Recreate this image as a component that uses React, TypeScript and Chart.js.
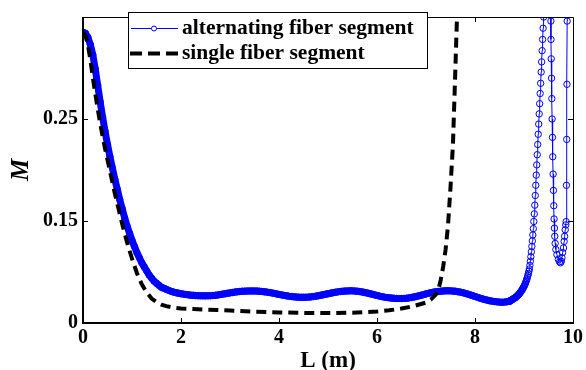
import React, { useEffect, useRef } from "react";
import { Chart, registerables } from "chart.js";

Chart.register(...registerables);

// ---------- data ----------
const SERIES_NAMES = ["alternating fiber segment", "single fiber segment"];
const X_TICKS = [0, 2, 4, 6, 8, 10];
const Y_TICK_VALUES = [0, 0.1, 0.2];
const Y_TICK_LABELS = ["0", "0.15", "0.25"];
const X_TITLE = "L (m)";
const Y_TITLE = "M";

// alternating fiber segment: sampled every 0.05 m from L = 0 to L = 8.70
const altGridStep = 0.05;
const altGridM = [
  0.285, 0.284, 0.280, 0.273, 0.263, 0.249, 0.233, 0.217, 0.202, 0.188,
  0.175, 0.163, 0.152, 0.141, 0.131, 0.121, 0.112, 0.103, 0.095, 0.088,
  0.081, 0.075, 0.069, 0.064, 0.059, 0.055, 0.051, 0.047, 0.044, 0.041,
  0.039, 0.037, 0.035, 0.034, 0.033, 0.032, 0.031, 0.0303, 0.0297, 0.0292,
  0.0287, 0.0283, 0.0279, 0.0276, 0.0273, 0.0271, 0.0269, 0.0268, 0.0267, 0.0266,
  0.0266, 0.0267, 0.0268, 0.0270, 0.0272, 0.0275, 0.0279, 0.0283, 0.0287, 0.0291,
  0.0295, 0.0299, 0.0303, 0.0306, 0.0309, 0.0311, 0.0312, 0.0313, 0.0314, 0.0314,
  0.0314, 0.0313, 0.0311, 0.0309, 0.0306, 0.0303, 0.0299, 0.0295, 0.0290, 0.0285,
  0.0280, 0.0276, 0.0271, 0.0267, 0.0263, 0.0260, 0.0257, 0.0255, 0.0253, 0.0252,
  0.0252, 0.0253, 0.0254, 0.0256, 0.0259, 0.0263, 0.0267, 0.0272, 0.0277, 0.0282,
  0.0287, 0.0292, 0.0297, 0.0301, 0.0305, 0.0308, 0.0311, 0.0313, 0.0314, 0.0315,
  0.0315, 0.0313, 0.0311, 0.0308, 0.0304, 0.0299, 0.0294, 0.0288, 0.0282, 0.0276,
  0.0270, 0.0264, 0.0259, 0.0254, 0.0250, 0.0247, 0.0244, 0.0242, 0.0241, 0.0240,
  0.0240, 0.0241, 0.0243, 0.0246, 0.0250, 0.0255, 0.0260, 0.0266, 0.0272, 0.0278,
  0.0285, 0.0291, 0.0297, 0.0302, 0.0306, 0.0309, 0.0312, 0.0314, 0.0315, 0.0315,
  0.0315, 0.0313, 0.0311, 0.0307, 0.0303, 0.0297, 0.0291, 0.0284, 0.0276, 0.0268,
  0.0260, 0.0252, 0.0244, 0.0237, 0.0230, 0.0224, 0.0218, 0.0214, 0.0210, 0.0207,
  0.0205, 0.0204, 0.0205, 0.0208, 0.0213,
];

// alternating fiber segment: steep oscillating tail (L > 8.70)
const altTailL = [
  8.70, 8.71, 8.72, 8.73, 8.74, 8.75, 8.76, 8.77, 8.78, 8.79, 8.80,
  8.81, 8.82, 8.83, 8.84, 8.85, 8.86, 8.87, 8.88, 8.89, 8.90,
  8.91, 8.92, 8.93, 8.94, 8.95, 8.96, 8.97, 8.98, 8.99, 9.00,
  9.01, 9.02, 9.03, 9.04, 9.05, 9.06, 9.07, 9.08, 9.09, 9.10,
  9.11, 9.12, 9.13, 9.14, 9.15, 9.16, 9.17, 9.18, 9.19, 9.20,
  9.21, 9.22, 9.23, 9.24, 9.25, 9.26, 9.27, 9.28, 9.29, 9.30,
  9.31, 9.32, 9.33, 9.34, 9.35, 9.36, 9.37, 9.38, 9.39, 9.40,
  9.41, 9.42, 9.45, 9.50, 9.54,
  9.549, 9.551, 9.556, 9.562, 9.568, 9.574, 9.581, 9.587, 9.594, 9.601,
  9.608, 9.614, 9.621, 9.628, 9.636, 9.650, 9.672, 9.700, 9.725, 9.745,
  9.762, 9.775, 9.788, 9.806, 9.819, 9.829, 9.841, 9.852, 9.860, 9.866,
  9.872, 9.877, 9.881, 9.884,
];
const altTailM = [
  0.0213, 0.0215, 0.0218, 0.0221, 0.0224, 0.0227, 0.0230, 0.0233, 0.0236, 0.0239, 0.0242,
  0.0245, 0.0248, 0.0252, 0.0256, 0.0260, 0.0264, 0.0268, 0.0273, 0.0278, 0.0284,
  0.0290, 0.0296, 0.0303, 0.0310, 0.0317, 0.0325, 0.0333, 0.0341, 0.0350, 0.0359,
  0.0369, 0.0380, 0.0392, 0.0405, 0.0419, 0.0434, 0.0450, 0.0467, 0.0486, 0.0507,
  0.0530, 0.0565, 0.0605, 0.0650, 0.0698, 0.0750, 0.0805, 0.0863, 0.0925, 0.0995,
  0.1070, 0.1155, 0.1250, 0.1350, 0.1450, 0.1550, 0.1650, 0.1750, 0.1850, 0.1950,
  0.2050, 0.2150, 0.2250, 0.2350, 0.2460, 0.2560, 0.2670, 0.2780, 0.2890, 0.3000,
  0.3110, 0.3230, 0.40, 0.42, 0.33,
  0.296, 0.278, 0.259, 0.240, 0.220, 0.200, 0.182, 0.163, 0.146, 0.130,
  0.115, 0.102, 0.093, 0.085, 0.078, 0.072, 0.067, 0.0625, 0.060, 0.059,
  0.0605, 0.064, 0.069, 0.0736, 0.080, 0.085, 0.0914, 0.0962, 0.0994, 0.135,
  0.180, 0.234, 0.296, 0.36,
];

// single fiber segment
const singleL = [
  0.00, 0.05, 0.10, 0.15, 0.20, 0.25, 0.30, 0.35, 0.40, 0.45,
  0.50, 0.55, 0.60, 0.65, 0.70, 0.75, 0.80, 0.85, 0.90, 0.95,
  1.00, 1.10, 1.20, 1.30, 1.40, 1.50, 1.60, 1.70, 1.80, 1.90,
  2.00, 2.25, 2.50, 2.75, 3.00, 3.50, 4.00, 4.50, 5.00, 5.50,
  6.00, 6.25, 6.50, 6.75, 7.00, 7.10, 7.20, 7.25, 7.30, 7.35,
  7.40, 7.45, 7.50, 7.55, 7.60, 7.62, 7.64, 7.66,
];
const singleM = [
  0.285, 0.282, 0.273, 0.258, 0.241, 0.225, 0.210, 0.196, 0.183, 0.171,
  0.160, 0.149, 0.138, 0.127, 0.117, 0.107, 0.097, 0.088, 0.079, 0.071,
  0.063, 0.049, 0.038, 0.030, 0.024, 0.0205, 0.0180, 0.0165, 0.0155, 0.0148,
  0.0143, 0.0137, 0.0132, 0.0127, 0.0122, 0.0111, 0.0104, 0.0099, 0.0097, 0.0101,
  0.0112, 0.0124, 0.0142, 0.0166, 0.0200, 0.0230, 0.0280, 0.0320, 0.0420, 0.0550,
  0.0720, 0.0960, 0.1330, 0.1750, 0.2500, 0.2810, 0.3100, 0.3400,
];

// ---------- styling ----------
const SERIF = '"Liberation Serif", "Times New Roman", serif';
const BLUE = "#0000ff";

const framePlugin = {
  id: "matlabFrame",
  afterDatasetsDraw(chart: any) {
    const { ctx, chartArea: a, scales } = chart;
    const xs = scales.x;
    const ys = scales.y;
    ctx.save();
    ctx.strokeStyle = "#000";
    ctx.lineWidth = 1;
    ctx.beginPath();
    for (const v of X_TICKS) {
      if (v === 0 || v === 10) continue;
      const px = Math.round(xs.getPixelForValue(v)) + 0.5;
      ctx.moveTo(px, a.bottom);
      ctx.lineTo(px, a.bottom - 5);
      ctx.moveTo(px, a.top);
      ctx.lineTo(px, a.top + 5);
    }
    for (const v of Y_TICK_VALUES) {
      if (v === 0) continue;
      const py = Math.round(ys.getPixelForValue(v)) + 0.5;
      ctx.moveTo(a.left, py);
      ctx.lineTo(a.left + 5, py);
      ctx.moveTo(a.right, py);
      ctx.lineTo(a.right - 5, py);
    }
    ctx.stroke();
    ctx.beginPath();
    ctx.moveTo(a.left, a.top + 0.5);
    ctx.lineTo(a.right + 0.5, a.top + 0.5);
    ctx.lineTo(a.right + 0.5, a.bottom);
    ctx.stroke();
    ctx.lineWidth = 2;
    ctx.beginPath();
    ctx.moveTo(a.left, a.top);
    ctx.lineTo(a.left, a.bottom);
    ctx.lineTo(a.right + 1, a.bottom);
    ctx.stroke();
    ctx.restore();
  },
};

const legendPlugin = {
  id: "boxLegend",
  afterDraw(chart: any) {
    const ctx = chart.ctx;
    ctx.save();
    const bx = 128.5, by = 12.5, bw = 299, bh = 56;
    ctx.fillStyle = "#fff";
    ctx.fillRect(bx, by, bw, bh);
    ctx.strokeStyle = "#000";
    ctx.lineWidth = 1;
    ctx.strokeRect(bx, by, bw, bh);
    // row 1 sample
    ctx.strokeStyle = BLUE;
    ctx.lineWidth = 1;
    ctx.beginPath();
    ctx.moveTo(131, 28.5);
    ctx.lineTo(178, 28.5);
    ctx.stroke();
    ctx.beginPath();
    ctx.arc(154, 28.5, 2.5, 0, Math.PI * 2);
    ctx.fillStyle = "#fff";
    ctx.fill();
    ctx.stroke();
    // row 2 sample
    ctx.strokeStyle = "#000";
    ctx.lineWidth = 4;
    ctx.setLineDash([12, 6]);
    ctx.beginPath();
    ctx.moveTo(130, 53.5);
    ctx.lineTo(179, 53.5);
    ctx.stroke();
    ctx.setLineDash([]);
    ctx.fillStyle = "#000";
    ctx.font = `bold 21.5px ${SERIF}`;
    ctx.textAlign = "left";
    ctx.textBaseline = "alphabetic";
    ctx.fillText(SERIES_NAMES[0], 182, 33.5);
    ctx.fillText(SERIES_NAMES[1], 182, 58.5);
    ctx.restore();
  },
};

export default function App() {
  const canvasRef = useRef<HTMLCanvasElement | null>(null);

  useEffect(() => {
    const canvas = canvasRef.current;
    if (!canvas) return;

    const altMainData = altGridM.map((m, i) => ({ x: +(i * altGridStep).toFixed(2), y: m }));
    const altTailData = altTailL.map((l, i) => ({ x: l, y: altTailM[i] }));
    const singleData = singleL.map((l, i) => ({ x: l, y: singleM[i] }));

    const markerStyle = {
      pointRadius: 3.2,
      pointHoverRadius: 3.2,
      pointBorderWidth: 1,
      pointBorderColor: BLUE,
      pointBackgroundColor: "rgba(0,0,0,0)",
      fill: false,
      tension: 0,
      clip: 0,
    };

    const chart = new Chart(canvas, {
      type: "line",
      data: {
        datasets: [
          {
            label: SERIES_NAMES[1],
            data: singleData,
            borderColor: "#000",
            borderWidth: 4,
            borderDash: [10, 6],
            pointRadius: 0,
            fill: false,
            tension: 0,
            clip: 0,
            order: 1,
          },
          {
            // densely sampled part: overlapping markers form a solid band
            label: SERIES_NAMES[0],
            data: altMainData,
            borderColor: BLUE,
            borderWidth: 7,
            borderJoinStyle: "round",
            borderCapStyle: "round",
            ...markerStyle,
            order: 2,
          },
          {
            label: SERIES_NAMES[0],
            data: altTailData,
            borderColor: BLUE,
            borderWidth: 1,
            ...markerStyle,
            order: 2,
          },
        ],
      },
      options: {
        animation: false,
        responsive: false,
        maintainAspectRatio: false,
        events: [],
        layout: { padding: { top: 12, right: 10, left: 0, bottom: 0 } },
        plugins: {
          legend: { display: false },
          tooltip: { enabled: false },
        },
        scales: {
          x: {
            type: "linear",
            min: 0,
            max: 10,
            grid: { display: false, drawTicks: false },
            border: { display: false },
            afterBuildTicks: (s: any) => {
              s.ticks = X_TICKS.map((v) => ({ value: v }));
            },
            afterFit: (s: any) => {
              s.height = 47;
            },
            ticks: {
              color: "#000",
              padding: 3,
              maxRotation: 0,
              font: { family: SERIF, size: 20, weight: "bold" },
              callback: (v: any) => String(v),
            },
            title: {
              display: true,
              text: X_TITLE,
              color: "#000",
              padding: 0,
              font: { family: SERIF, size: 23, weight: "bold", lineHeight: 0.8 },
            },
          },
          y: {
            type: "linear",
            min: 0,
            max: 0.3,
            grid: { display: false, drawTicks: false },
            border: { display: false },
            afterBuildTicks: (s: any) => {
              s.ticks = Y_TICK_VALUES.map((v) => ({ value: v }));
            },
            afterFit: (s: any) => {
              s.width = 83;
            },
            ticks: {
              color: "#000",
              padding: 5,
              font: { family: SERIF, size: 20, weight: "bold" },
              callback: (_v: any, i: number) => Y_TICK_LABELS[i],
            },
            title: {
              display: true,
              text: Y_TITLE,
              color: "#000",
              padding: { top: 7, bottom: 0 },
              font: { family: SERIF, size: 25, weight: "bold", style: "italic", lineHeight: 1.2 },
            },
          },
        },
      },
      plugins: [framePlugin, legendPlugin],
    });

    return () => chart.destroy();
  }, []);

  return (
    <div style={{ position: "fixed", left: 0, top: 0, width: 586, height: 370, background: "#fff" }}>
      <canvas ref={canvasRef} width={586} height={370} style={{ display: "block" }} />
    </div>
  );
}
